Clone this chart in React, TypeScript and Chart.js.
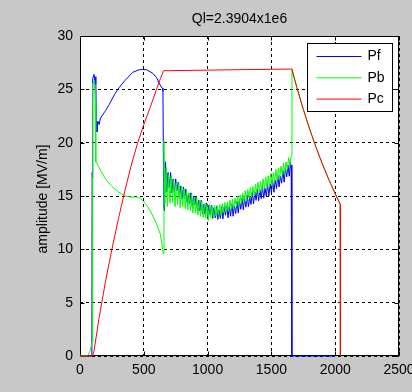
import React, { useEffect, useRef } from "react";
import { Chart, registerables } from "chart.js";

Chart.register(...registerables);

const FONT = "'Liberation Sans', Arial, Helvetica, sans-serif";
const FIG_BG = "#c8c8c8";

const chartTitle = "Ql=2.3904x1e6";
const yAxisLabel = "amplitude [MV/m]";
const seriesNames = ["Pf", "Pb", "Pc"];
const seriesColors = ["#0000ff", "#00ff00", "#ff0000"];
const xTicks = [0, 500, 1000, 1500, 2000, 2500];
const yTicks = [0, 5, 10, 15, 20, 25, 30];

// Pf (forward): filling part, noisy flat-top part, switch-off part
const pfHeadX = [0, 93, 95, 99, 100, 110, 118, 124, 128, 133, 140, 150, 160, 200, 230, 270, 309, 350, 414, 466, 519, 571, 600, 623, 645, 650, 656, 662];
const pfHeadY = [0, 0, 17.2, 16.7, 26.0, 26.4, 25.5, 26.2, 22.0, 21.0, 22.0, 21.7, 22.3, 23.0, 23.6, 24.5, 25.2, 25.8, 26.6, 26.85, 26.85, 26.5, 26.1, 25.5, 25.1, 24.8, 14.0, 13.6];
const pfNoiseX = [
  670, 680, 690, 700, 710, 720, 730, 740, 750, 760, 770, 780, 790, 800, 810, 820, 830, 840, 850, 860,
  870, 880, 890, 900, 910, 920, 930, 940, 950, 960, 970, 980, 990, 1000, 1010, 1020, 1030, 1040, 1050, 1060,
  1070, 1080, 1090, 1100, 1110, 1120, 1130, 1140, 1150, 1160, 1170, 1180, 1190, 1200, 1210, 1220, 1230, 1240, 1250, 1260,
  1270, 1280, 1290, 1300, 1310, 1320, 1330, 1340, 1350, 1360, 1370, 1380, 1390, 1400, 1410, 1420, 1430, 1440, 1450, 1460,
  1470, 1480, 1490, 1500, 1510, 1520, 1530, 1540, 1550, 1560, 1570, 1580, 1590, 1600, 1610, 1620, 1630, 1640, 1650,
];
const pfNoiseY = [
  18.2, 15.4, 17.2, 15.8, 17.2, 15.3, 16.6, 15.3, 16.6, 15.5, 16.3, 14.85, 15.95, 14.7, 15.85, 14.75, 15.65, 14.4, 15.2, 14.3,
  15.3, 14.0, 15.0, 14.15, 14.95, 13.65, 14.6, 13.6, 14.6, 13.35, 14.2, 13.3, 14.35, 13.1, 14.15, 13.2, 14.15, 12.9, 13.9, 12.95,
  14.05, 12.8, 13.7, 12.9, 14.0, 12.85, 13.95, 13.2, 14.1, 12.95, 14.0, 13.1, 14.25, 13.1, 14.05, 13.35, 14.5, 13.4, 14.55, 13.75,
  14.8, 13.7, 14.8, 13.95, 15.1, 14.0, 14.95, 14.2, 15.35, 14.25, 15.4, 14.6, 15.65, 14.55, 15.6, 14.75, 15.95, 14.8, 15.75, 15.0,
  16.15, 15.0, 16.15, 15.3, 16.45, 15.35, 16.5, 15.7, 16.95, 15.85, 16.85, 16.2, 17.4, 16.3, 17.55, 16.8, 17.9, 16.85, 18.2,
];
const pfTailX = [1655, 1660, 1661, 2000];
const pfTailY = [17.4, 17.9, 0, 0];

// Pb (reflected)
const pbHeadX = [0, 60, 80, 95, 100, 112, 118, 124, 140, 170, 200, 250, 300, 350, 400, 450, 480, 520, 560, 600, 630, 648, 652, 658];
const pbHeadY = [0, 0, 0.5, 1.3, 25.5, 25.8, 24.0, 18.2, 17.9, 17.2, 16.6, 15.9, 15.4, 15.0, 14.9, 14.9, 14.7, 14.2, 13.4, 12.4, 11.4, 10.0, 9.6, 20.2];
const pbNoiseX = [
  665, 675, 685, 695, 705, 715, 725, 735, 745, 755, 765, 775, 785, 795, 805, 815, 825, 835, 845, 855,
  865, 875, 885, 895, 905, 915, 925, 935, 945, 955, 965, 975, 985, 995, 1005, 1015, 1025, 1035, 1045, 1055,
  1065, 1075, 1085, 1095, 1105, 1115, 1125, 1135, 1145, 1155, 1165, 1175, 1185, 1195, 1205, 1215, 1225, 1235, 1245, 1255,
  1265, 1275, 1285, 1295, 1305, 1315, 1325, 1335, 1345, 1355, 1365, 1375, 1385, 1395, 1405, 1415, 1425, 1435, 1445, 1455,
  1465, 1475, 1485, 1495, 1505, 1515, 1525, 1535, 1545, 1555, 1565, 1575, 1585, 1595, 1605, 1615, 1625, 1635, 1645, 1655,
];
const pbNoiseY = [
  14.2, 17.6, 14.0, 17.0, 14.3, 16.9, 14.4, 16.5, 14.0, 16.3, 14.2, 16.2, 13.9, 15.8, 14.0, 15.7, 13.8, 15.6, 13.7, 15.3,
  13.6, 15.2, 13.4, 14.9, 13.4, 14.9, 13.2, 14.6, 13.1, 14.5, 13.0, 14.3, 12.9, 14.2, 12.7, 14.2, 13.0, 14.1, 13.0, 14.1,
  13.1, 14.1, 13.2, 14.2, 13.2, 14.3, 13.4, 14.4, 13.5, 14.4, 13.6, 14.6, 13.8, 14.7, 13.8, 14.8, 14.0, 15.0, 14.1, 15.1,
  14.3, 15.3, 14.5, 15.5, 14.5, 15.6, 14.8, 15.8, 14.9, 15.9, 15.0, 16.1, 15.3, 16.3, 15.3, 16.4, 15.5, 16.6, 15.7, 16.8,
  15.8, 16.9, 15.9, 17.1, 16.0, 17.2, 16.3, 17.5, 16.5, 17.6, 16.6, 17.8, 17.0, 18.1, 17.1, 18.2, 17.5, 18.6, 17.9, 18.8,
];
const pbTailX = [1661, 1700, 1750, 1800, 1850, 1900, 1950, 2000, 2040, 2041];
const pbTailY = [26.9, 25.15, 23.13, 21.27, 19.56, 17.99, 16.54, 15.21, 14.21, 0];

// Pc (cavity)
const pcX = [0, 99, 110, 150, 200, 250, 300, 350, 400, 450, 500, 550, 600, 630, 655, 700, 1000, 1300, 1660, 1700, 1750, 1800, 1850, 1900, 1950, 2000, 2040, 2041];
const pcY = [0, 0, 0.5, 3.6, 7.0, 10.0, 12.8, 15.4, 17.8, 19.9, 21.7, 23.3, 25.0, 26.0, 26.75, 26.75, 26.8, 26.85, 26.9, 25.15, 23.13, 21.27, 19.56, 17.99, 16.54, 15.21, 14.21, 0];

const toPoints = (xs: number[], ys: number[]) => xs.map((x, i) => ({ x, y: ys[i] }));

const framePlugin = {
  id: "matlabFrame",
  beforeDraw(chart: any) {
    const { ctx, chartArea: a, width, height } = chart;
    ctx.save();
    ctx.fillStyle = FIG_BG;
    ctx.fillRect(0, 0, width, height);
    ctx.fillStyle = "#ffffff";
    ctx.fillRect(a.left, a.top, a.right - a.left, a.bottom - a.top);
    ctx.restore();
  },
  beforeDatasetsDraw(chart: any) {
    const { ctx, chartArea: a, scales } = chart;
    const sx = scales.x;
    const sy = scales.y;
    ctx.save();
    ctx.setLineDash([]);
    ctx.strokeStyle = "#000";
    ctx.lineWidth = 1;
    const L = Math.round(a.left) + 0.5;
    const R = Math.round(a.right) - 0.5;
    const T = Math.round(a.top) + 0.5;
    const B = Math.round(a.bottom) - 0.5;
    ctx.strokeRect(L, T, R - L, B - T);
    ctx.beginPath();
    xTicks.forEach((v) => {
      const px = Math.round(sx.getPixelForValue(v)) + 0.5;
      ctx.moveTo(px, B);
      ctx.lineTo(px, B - 4);
      ctx.moveTo(px, T);
      ctx.lineTo(px, T + 4);
    });
    yTicks.forEach((v) => {
      const py = Math.round(sy.getPixelForValue(v)) + 0.5;
      ctx.moveTo(L, py);
      ctx.lineTo(L + 4, py);
      ctx.moveTo(R, py);
      ctx.lineTo(R - 4, py);
    });
    ctx.stroke();

    ctx.fillStyle = "#000";
    ctx.font = `14px ${FONT}`;
    ctx.textAlign = "center";
    ctx.textBaseline = "middle";
    ctx.fillText(chartTitle, (a.left + a.right) / 2, 19);

    ctx.save();
    ctx.translate(43, (a.top + a.bottom) / 2 + 3);
    ctx.rotate(-Math.PI / 2);
    ctx.fillText(yAxisLabel, 0, 0);
    ctx.restore();
    ctx.restore();
  },
  afterDatasetsDraw(chart: any) {
    const { ctx, chartArea: a } = chart;
    const w = 85;
    const h = 68;
    const x0 = Math.round(a.right) - 7 - w + 0.5;
    const y0 = Math.round(a.top) + 7 + 0.5;
    ctx.save();
    ctx.setLineDash([]);
    ctx.fillStyle = "#ffffff";
    ctx.fillRect(x0, y0, w, h);
    ctx.strokeStyle = "#000";
    ctx.lineWidth = 1;
    ctx.strokeRect(x0, y0, w, h);
    ctx.font = `14px ${FONT}`;
    ctx.textAlign = "left";
    ctx.textBaseline = "middle";
    seriesNames.forEach((name, i) => {
      const ry = y0 + 13 + i * 21.3;
      ctx.strokeStyle = seriesColors[i];
      ctx.beginPath();
      ctx.moveTo(x0 + 9, ry);
      ctx.lineTo(x0 + 54, ry);
      ctx.stroke();
      ctx.fillStyle = "#000";
      ctx.fillText(name, x0 + 60, ry);
    });
    ctx.restore();
  },
};

export default function App() {
  const ref = useRef<HTMLCanvasElement>(null);

  useEffect(() => {
    document.body.style.margin = "0";
    const canvas = ref.current;
    if (!canvas) return;
    const series = [
      [...toPoints(pfHeadX, pfHeadY), ...toPoints(pfNoiseX, pfNoiseY), ...toPoints(pfTailX, pfTailY)],
      [...toPoints(pbHeadX, pbHeadY), ...toPoints(pbNoiseX, pbNoiseY), ...toPoints(pbTailX, pbTailY)],
      toPoints(pcX, pcY),
    ];
    const chart = new Chart(canvas, {
      type: "line",
      data: {
        datasets: series.map((pts, i) => ({
          label: seriesNames[i],
          data: pts,
          borderColor: seriesColors[i],
          backgroundColor: seriesColors[i],
          borderWidth: 1,
          pointRadius: 0,
          fill: false,
          tension: 0,
          clip: false as any,
          order: 3 - i,
        })),
      },
      options: {
        responsive: false,
        animation: false,
        devicePixelRatio: 1,
        layout: { padding: { left: 0, right: 13, top: 36, bottom: 0 } },
        plugins: {
          legend: { display: false },
          tooltip: { enabled: false },
          title: { display: false },
        },
        scales: {
          x: {
            type: "linear",
            min: 0,
            max: 2500,
            ticks: {
              stepSize: 500,
              color: "#000",
              font: { family: FONT, size: 14 },
              padding: 6,
              maxRotation: 0,
              callback: (v: any) => String(v),
            },
            grid: { color: "#000", lineWidth: 1, drawTicks: false },
            border: { display: false, dash: [3, 3] },
            afterFit: (s: any) => {
              s.height = 36;
              s.paddingLeft = 0;
              s.paddingRight = 0;
            },
          },
          y: {
            type: "linear",
            min: 0,
            max: 30,
            ticks: {
              stepSize: 5,
              color: "#000",
              font: { family: FONT, size: 14 },
              padding: 7,
              callback: (v: any) => String(v),
            },
            grid: { color: "#000", lineWidth: 1, drawTicks: false },
            border: { display: false, dash: [3, 3] },
            afterFit: (s: any) => {
              s.width = 80;
              s.paddingTop = 0;
              s.paddingBottom = 0;
            },
          },
        },
      } as any,
      plugins: [framePlugin],
    });
    return () => chart.destroy();
  }, []);

  return (
    <div style={{ width: 412, height: 392, background: FIG_BG }}>
      <canvas ref={ref} width={412} height={392} style={{ display: "block", width: 412, height: 392 }} />
    </div>
  );
}
